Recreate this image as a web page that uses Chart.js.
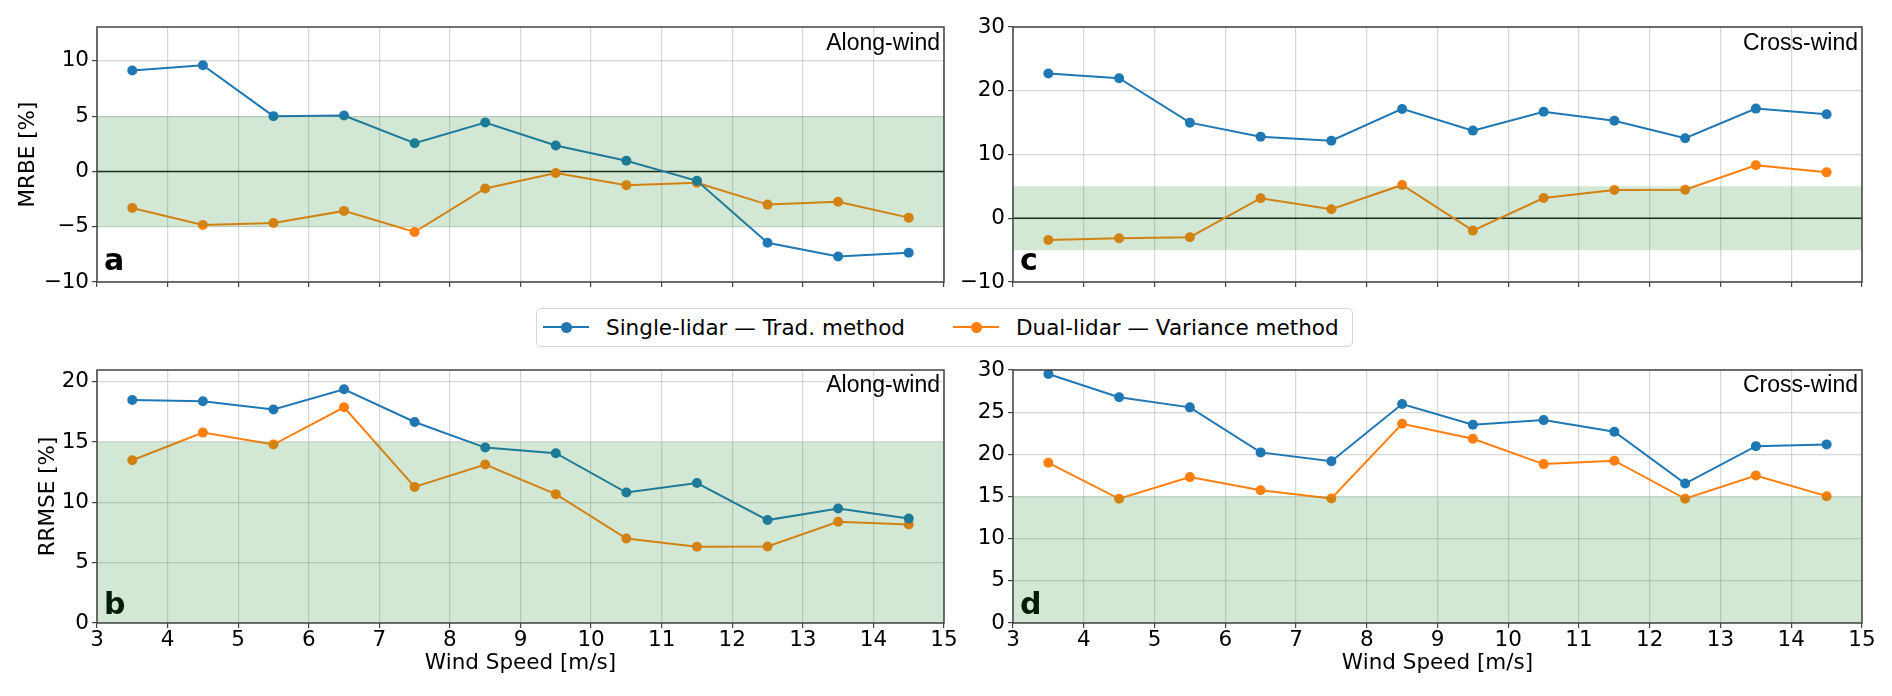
<!DOCTYPE html>
<html>
<head>
<meta charset="utf-8">
<script src="https://cdn.jsdelivr.net/npm/chart.js@4.4.1/dist/chart.umd.min.js"></script>
<style>
  html, body { margin: 0; padding: 0; background: #fff; }
  #lienzo { position: relative; width: 1892px; height: 696px; overflow: hidden; }
  .panel { position: absolute; }
  #leyenda {
    position: absolute; left: 536px; top: 308px; width: 815px; height: 37px;
    border: 1px solid #d6d6d6; border-radius: 5px; background: #fff;
    font-family: 'DejaVu Sans', sans-serif; font-size: 21.5px; color: #000;
  }
  .lin { position: absolute; height: 2px; width: 46px; top: 17px; }
  .pto { position: absolute; width: 11px; height: 11px; border-radius: 50%; top: 12.5px; }
  .txt { position: absolute; top: 0; line-height: 37px; white-space: nowrap; }
</style>
</head>
<body>
<div id="lienzo">
  <div class="panel" style="left:0;top:0;"><canvas id="panelA" width="960" height="300"></canvas></div>
  <div class="panel" style="left:960px;top:0;"><canvas id="panelC" width="932" height="300"></canvas></div>
  <div class="panel" style="left:0;top:350px;"><canvas id="panelB" width="960" height="346"></canvas></div>
  <div class="panel" style="left:960px;top:350px;"><canvas id="panelD" width="932" height="346"></canvas></div>
  <div id="leyenda">
    <div class="lin" style="left:6px;background:#1f77b4;"></div>
    <div class="pto" style="left:24px;background:#1f77b4;"></div>
    <span class="txt" style="left:69px;">Single-lidar — Trad. method</span>
    <div class="lin" style="left:416px;background:#ff7f0e;"></div>
    <div class="pto" style="left:434px;background:#ff7f0e;"></div>
    <span class="txt" style="left:479px;">Dual-lidar — Variance method</span>
  </div>
</div>
<script>
// velocidades de viento (centro de cada bin)
const velocidades = [3.5, 4.5, 5.5, 6.5, 7.5, 8.5, 9.5, 10.5, 11.5, 12.5, 13.5, 14.5];

// MRBE [%]
const mrbeAlongSingle = [9.13, 9.6, 5.0, 5.06, 2.55, 4.43, 2.34, 0.97, -0.85, -6.45, -7.7, -7.36];
const mrbeAlongDual = [-3.3, -4.85, -4.66, -3.57, -5.48, -1.54, -0.15, -1.24, -1.03, -3.0, -2.75, -4.18];
const mrbeCrossSingle = [22.7, 21.96, 15.0, 12.8, 12.17, 17.15, 13.75, 16.7, 15.3, 12.55, 17.2, 16.3];
const mrbeCrossDual = [-3.4, -3.14, -2.98, 3.14, 1.41, 5.22, -1.94, 3.18, 4.44, 4.48, 8.3, 7.2];

// RRMSE [%]
const rrmseAlongSingle = [18.49, 18.38, 17.7, 19.37, 16.66, 14.54, 14.07, 10.81, 11.6, 8.53, 9.49, 8.66];
const rrmseAlongDual = [13.49, 15.78, 14.79, 17.88, 11.28, 13.13, 10.68, 7.0, 6.32, 6.34, 8.39, 8.16];
const rrmseCrossSingle = [29.52, 26.76, 25.57, 20.23, 19.19, 25.96, 23.5, 24.06, 22.68, 16.54, 20.97, 21.18];
const rrmseCrossDual = [19.0, 14.73, 17.3, 15.75, 14.76, 23.63, 21.85, 18.84, 19.24, 14.73, 17.49, 15.04];

const nombreSingle = 'Single-lidar — Trad. method';
const nombreDual = 'Dual-lidar — Variance method';
const tituloX = 'Wind Speed [m/s]';

Chart.defaults.font.family = "'DejaVu Sans', sans-serif";
Chart.defaults.font.size = 21.5;
Chart.defaults.color = '#000';

const azul = '#1f77b4';
const naranja = '#ff7f0e';
const colorBanda = 'rgba(30, 140, 40, 0.2)';
const colorGrid = 'rgba(176, 176, 176, 0.5)';

function puntos(valores) {
    return velocidades.map((v, i) => ({ x: v, y: valores[i] }));
}

function conMenos(valor) {
    return String(valor).replace('-', '\u2212');
}

// dibuja banda, linea cero, letra, etiqueta y marco
const pluginPanel = {
    id: 'panel',
    beforeDatasetsDraw(chart, args, opts) {
        const { ctx, chartArea, scales } = chart;
        ctx.save();
        if (opts.lineaCero) {
            const y0 = scales.y.getPixelForValue(0);
            ctx.strokeStyle = '#1a1a1a';
            ctx.lineWidth = 1.5;
            ctx.beginPath();
            ctx.moveTo(chartArea.left, y0);
            ctx.lineTo(chartArea.right, y0);
            ctx.stroke();
        }
        ctx.fillStyle = '#000';
        ctx.font = "bold 30px 'DejaVu Sans', sans-serif";
        ctx.textAlign = 'left';
        ctx.textBaseline = 'alphabetic';
        ctx.fillText(opts.letra, chartArea.left + 7, chartArea.bottom - opts.letraAbajo);
        ctx.restore();
    },
    afterDatasetsDraw(chart, args, opts) {
        const { ctx, chartArea, scales } = chart;
        const yA = scales.y.getPixelForValue(opts.banda[1]);
        const yB = scales.y.getPixelForValue(opts.banda[0]);
        ctx.save();
        ctx.fillStyle = colorBanda;
        ctx.fillRect(chartArea.left, yA, chartArea.right - chartArea.left, yB - yA);
        ctx.restore();
    },
    afterDraw(chart, args, opts) {
        const { ctx, chartArea } = chart;
        ctx.save();
        ctx.strokeStyle = '#444';
        ctx.lineWidth = 1.5;
        ctx.strokeRect(chartArea.left, chartArea.top, chartArea.right - chartArea.left, chartArea.bottom - chartArea.top);
        ctx.fillStyle = '#000';
        ctx.font = "23px 'Liberation Sans', Arial, sans-serif";
        ctx.textAlign = 'right';
        ctx.textBaseline = 'alphabetic';
        ctx.fillText(opts.etiqueta, chartArea.right - 4, chartArea.top + opts.etiquetaY);
        ctx.restore();
    }
};

function crearPanel(idCanvas, cfg) {
    const data = {
        datasets: [{
            label: nombreSingle,
            data: puntos(cfg.single),
            borderColor: azul,
            backgroundColor: azul,
            borderWidth: 2,
            pointRadius: 5,
            pointBorderWidth: 0,
            pointBackgroundColor: azul,
            tension: 0
        }, {
            label: nombreDual,
            data: puntos(cfg.dual),
            borderColor: naranja,
            backgroundColor: naranja,
            borderWidth: 2,
            pointRadius: 5,
            pointBorderWidth: 0,
            pointBackgroundColor: naranja,
            tension: 0
        }]
    };

    const config = {
        type: 'line',
        data: data,
        plugins: [pluginPanel],
        options: {
            responsive: false,
            animation: false,
            layout: { padding: { left: 0, top: cfg.arriba, right: cfg.derecha, bottom: 0 } },
            plugins: {
                legend: { display: false },
                tooltip: { enabled: false },
                panel: {
                    lineaCero: cfg.lineaCero,
                    banda: cfg.banda,
                    letra: cfg.letra,
                    letraAbajo: cfg.letraAbajo,
                    etiqueta: cfg.etiqueta,
                    etiquetaY: cfg.etiquetaY
                }
            },
            scales: {
                x: {
                    type: 'linear',
                    min: 3,
                    max: 15,
                    afterFit: function (scale) { scale.height = cfg.altoX; },
                    ticks: {
                        stepSize: 1,
                        display: cfg.mostrarX,
                        padding: 0,
                        includeBounds: false
                    },
                    grid: { color: colorGrid, lineWidth: 1.2, tickColor: '#444', tickLength: 5 },
                    border: { display: false },
                    title: {
                        display: cfg.mostrarX,
                        text: tituloX,
                        padding: { top: 0, bottom: 20 }
                    }
                },
                y: {
                    type: 'linear',
                    min: cfg.yMin,
                    max: cfg.yMax,
                    afterFit: function (scale) { scale.width = cfg.anchoY; },
                    ticks: {
                        stepSize: cfg.yPaso,
                        padding: 3,
                        includeBounds: false,
                        callback: conMenos
                    },
                    grid: { color: colorGrid, lineWidth: 1.2, tickColor: '#444', tickLength: 5 },
                    border: { display: false },
                    title: {
                        display: cfg.tituloY !== null,
                        text: cfg.tituloY || '',
                        padding: { top: cfg.tituloYPad, bottom: 0 }
                    }
                }
            }
        }
    };

    const ctx = document.getElementById(idCanvas).getContext('2d');
    new Chart(ctx, config);
}

crearPanel('panelA', {
    single: mrbeAlongSingle, dual: mrbeAlongDual,
    yMin: -10, yMax: 13.06, yPaso: 5, banda: [-5, 5], lineaCero: true,
    letra: 'a', letraAbajo: 12, etiqueta: 'Along-wind', etiquetaY: 23,
    tituloY: 'MRBE [%]', tituloYPad: 16, mostrarX: false,
    anchoY: 97, altoX: 18, arriba: 27, derecha: 16
});

crearPanel('panelC', {
    single: mrbeCrossSingle, dual: mrbeCrossDual,
    yMin: -10, yMax: 30, yPaso: 10, banda: [-5, 5], lineaCero: true,
    letra: 'c', letraAbajo: 12, etiqueta: 'Cross-wind', etiquetaY: 23,
    tituloY: null, tituloYPad: 0, mostrarX: false,
    anchoY: 53, altoX: 18, arriba: 27, derecha: 30
});

crearPanel('panelB', {
    single: rrmseAlongSingle, dual: rrmseAlongDual,
    yMin: 0, yMax: 20.97, yPaso: 5, banda: [0, 15], lineaCero: false,
    letra: 'b', letraAbajo: 9, etiqueta: 'Along-wind', etiquetaY: 22,
    tituloY: 'RRMSE [%]', tituloYPad: 36, mostrarX: true,
    anchoY: 97, altoX: 73, arriba: 20, derecha: 16
});

crearPanel('panelD', {
    single: rrmseCrossSingle, dual: rrmseCrossDual,
    yMin: 0, yMax: 30, yPaso: 5, banda: [0, 15], lineaCero: false,
    letra: 'd', letraAbajo: 9, etiqueta: 'Cross-wind', etiquetaY: 22,
    tituloY: null, tituloYPad: 0, mostrarX: true,
    anchoY: 53, altoX: 73, arriba: 20, derecha: 30
});
</script>
</body>
</html>
